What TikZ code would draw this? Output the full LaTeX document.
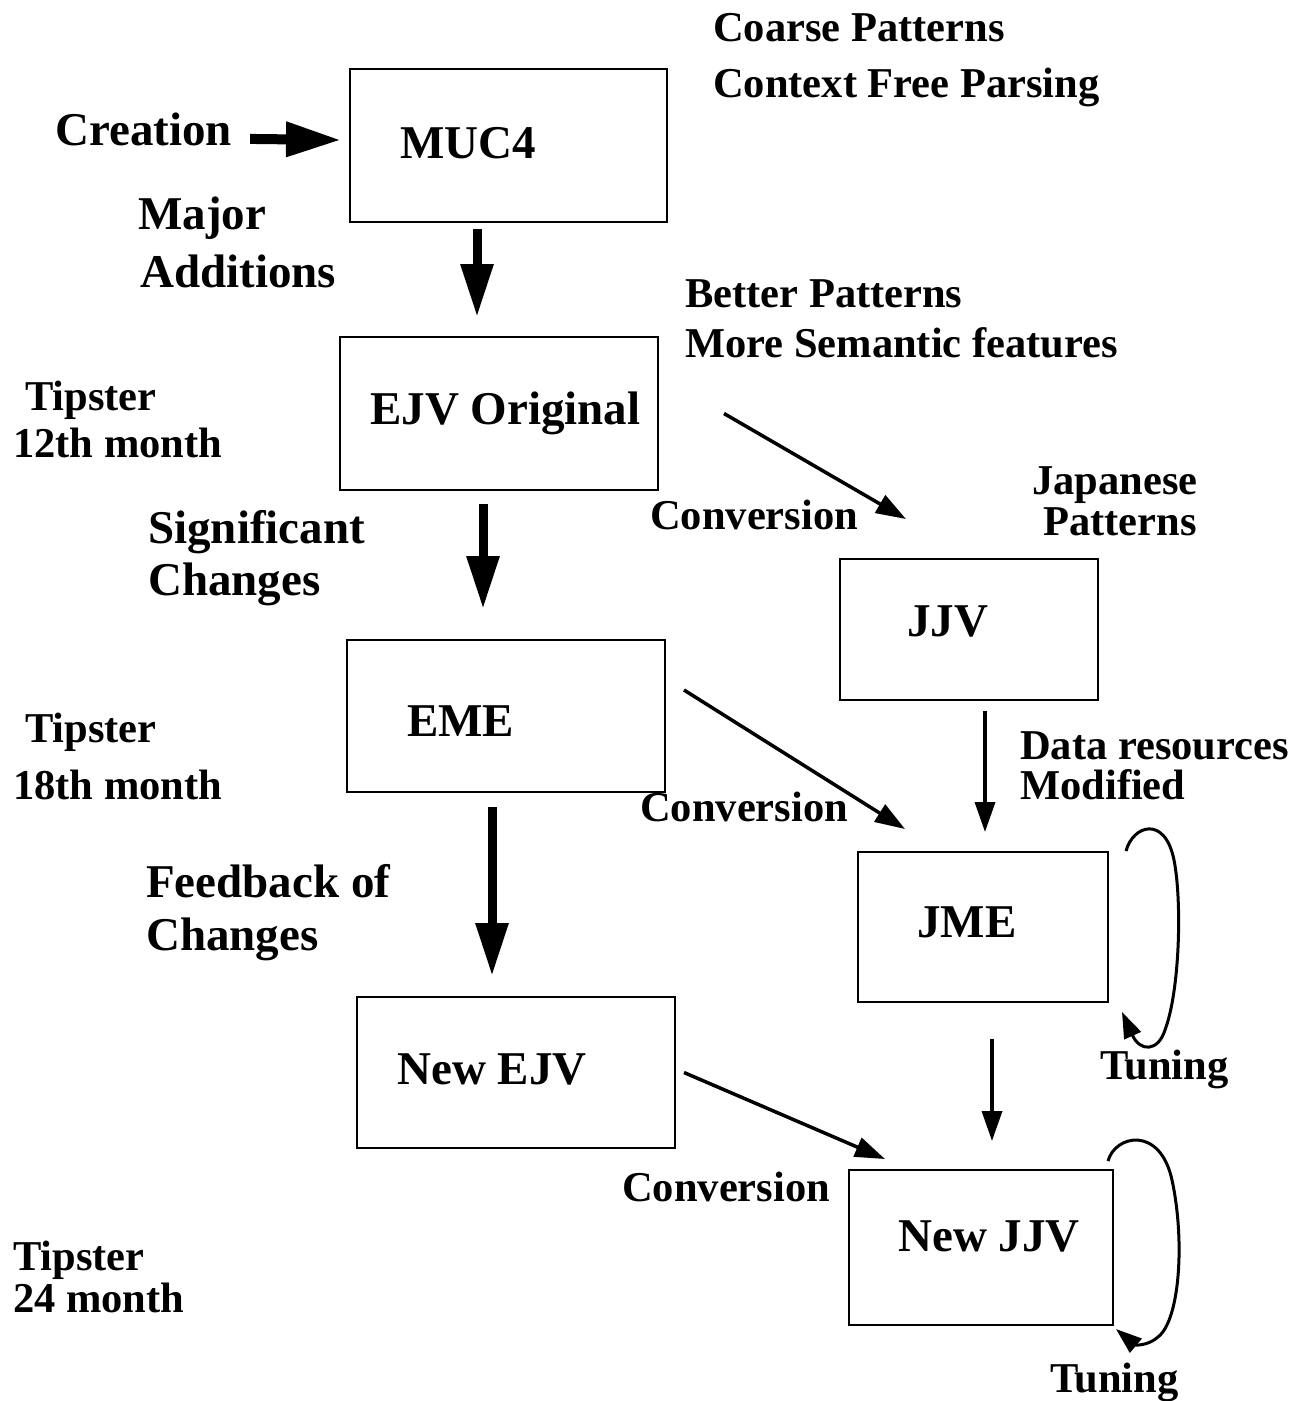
\documentclass[tikz,border=0pt]{standalone}
\usepackage{fontspec}
\setmainfont{Liberation Serif}
\usetikzlibrary{arrows.meta}
\begin{document}
\begin{tikzpicture}[x=1pt,y=-1pt,
  big/.style={font=\fontsize{47}{50}\selectfont\bfseries, anchor=base west, inner sep=0pt},
  small/.style={font=\fontsize{42.5}{46}\selectfont\bfseries, anchor=base west, inner sep=0pt},
  box/.style={draw, line width=2pt, inner sep=0pt},
  fat/.style={line width=9pt, -{Triangle[length=53pt,width=31pt]}},
  thin/.style={line width=3.5pt, -{Triangle[length=30pt,width=20pt]}},
  loop/.style={line width=3pt, -{Triangle[length=26pt,width=18pt]}}]
\useasboundingbox (0,0) rectangle (1307,1401);
% boxes
\node[box, minimum width=317pt, minimum height=153pt] (muc) at (508.5,145.5) {};
\node[box, minimum width=318pt, minimum height=153pt] (ejv) at (499,413.5) {};
\node[box, minimum width=258pt, minimum height=141pt] (jjv) at (969,629.5) {};
\node[box, minimum width=318pt, minimum height=152pt] (eme) at (506,716) {};
\node[box, minimum width=250pt, minimum height=150pt] (jme) at (983,927) {};
\node[box, minimum width=318pt, minimum height=151pt] (newejv) at (516,1072.5) {};
\node[box, minimum width=264pt, minimum height=155pt] (newjjv) at (981,1247.5) {};
% box labels
\node[big] (tmuc) at (400,158) {MUC4};
\node[big] (tejv) at (370,424) {EJV Original};
\node[big] (tjjv) at (907,636) {JJV};
\node[big] (teme) at (407,736) {EME};
\node[big] (tjme) at (917,937) {JME};
\node[big] (tnewejv) at (397,1084) {New EJV};
\node[big] (tnewjjv) at (898,1251) {New JJV};
% texts
\node[small] (coarse) at (713,41) {Coarse Patterns};
\node[small] (cfp) at (713,97) {Context Free Parsing};
\node[big] (creation) at (55,145) {Creation};
\node[big] (major) at (138,229) {Major};
\node[big] (additions) at (140,287) {Additions};
\node[small] (better) at (685,307) {Better Patterns};
\node[small] (moresem) at (685,357) {More Semantic features};
\node[small] (tip1) at (25,410) {Tipster};
\node[small] (m12) at (13,457) {12th month};
\node[small] (conv1) at (650,529) {Conversion};
\node[small] (jap) at (1032,494) {Japanese};
\node[small] (jpat) at (1043,535) {Patterns};
\node[big] (signif) at (148,543) {Significant};
\node[big] (changes1) at (148,595) {Changes};
\node[small] (tip2) at (25,742) {Tipster};
\node[small] (m18) at (13,799) {18th month};
\node[small] (data) at (1020,759) {Data resources};
\node[small] (modif) at (1020,799) {Modified};
\node[small] (conv2) at (640,821) {Conversion};
\node[big] (feedback) at (146,897) {Feedback of};
\node[big] (changes2) at (146,950) {Changes};
\node[small] (tuning1) at (1100,1079) {Tuning};
\node[small] (conv3) at (622,1201) {Conversion};
\node[small] (tip3) at (13,1270) {Tipster};
\node[small] (m24) at (13,1312) {24 month};
\node[small] (tuning2) at (1050,1392) {Tuning};
% connectors
\draw[line width=10pt, -{Triangle[length=55pt,width=33pt]}] ([xshift=18pt,yshift=-10pt]creation.east) -- ([xshift=-8pt,yshift=5.5pt]muc.west);
\draw[fat] ([xshift=-31.5pt,yshift=-6pt]muc.south) -- ([xshift=-22pt,yshift=19pt]ejv.north);
\draw[fat] ([xshift=-16pt,yshift=-13pt]ejv.south) -- ([xshift=-23pt,yshift=30pt]eme.north);
\draw[fat] ([xshift=-14pt,yshift=-14pt]eme.south) -- ([xshift=-24pt,yshift=20pt]newejv.north);
\draw[thin] ([xshift=16pt,yshift=-10pt]jjv.south) -- ([xshift=2pt,yshift=19pt]jme.north);
\draw[thin] ([xshift=9pt,yshift=-36pt]jme.south) -- ([xshift=11pt,yshift=28pt]newjjv.north);
\draw[thin] ([xshift=65pt]ejv.east) -- ([xshift=-63pt,yshift=39pt]jjv.north);
\draw[thin] ([xshift=18pt,yshift=26pt]eme.east) -- ([xshift=-78pt,yshift=22pt]jme.north);
\draw[thin] ([xshift=8pt]newejv.east) -- ([xshift=-96pt,yshift=10pt]newjjv.north);
% tuning loops
\coordinate (l1s) at ([xshift=17pt]jme.north east);
\coordinate (l1e) at (1122,1012);
\draw[loop] (l1s) .. controls (1133,825) and (1165,815) .. (1174,860)
  .. controls (1182,900) and (1180,990) .. (1165,1030)
  .. controls (1158,1052) and (1140,1052) .. (l1e);
\coordinate (l2s) at ([xshift=-6pt,yshift=8pt]newjjv.north east);
\coordinate (l2e) at (1116,1329);
\draw[loop] (l2s) .. controls (1115,1135) and (1160,1125) .. (1172,1180)
  .. controls (1185,1240) and (1180,1320) .. (1158,1337)
  .. controls (1148,1346) and (1135,1345) .. (l2e);
\end{tikzpicture}
\end{document}
